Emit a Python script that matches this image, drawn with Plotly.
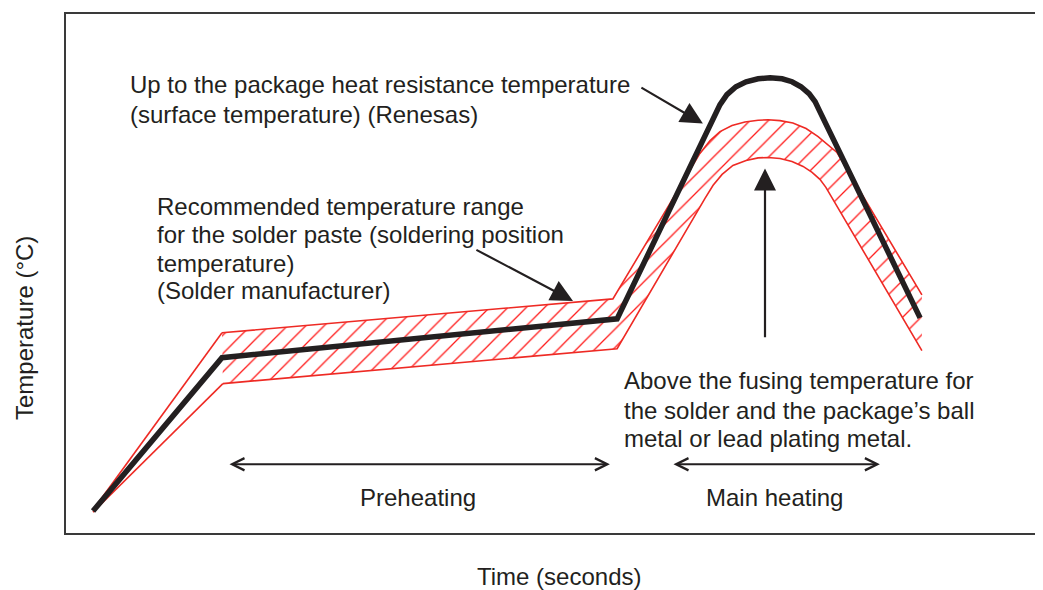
import plotly.graph_objects as go

# ---- data (time in s, temperature in °C; arbitrary schematic units) ----
profile_t = [9, 52, 183.7, 216.3, 218, 220.3, 223.3, 226.7, 230.7, 234.7, 238.7, 242, 245, 247.7, 249.7, 251.3, 284.7]
profile_T = [11, 88, 107.5, 210, 215, 220, 224, 226.5, 228, 228.5, 228, 226.5, 224, 220.5, 216.5, 211.5, 108]

ramp_upper_t = [9, 52]
ramp_upper_T = [11.5, 100.5]
ramp_lower_t = [9, 52.3]
ramp_lower_T = [10.5, 75]

band_upper_t = [52, 182.3, 211.3, 214.7, 218, 222, 226.3, 230.7, 234, 238, 242.3, 246.7, 250.7, 254, 257, 285.3]
band_upper_T = [100.5, 117.5, 190.5, 197, 201.5, 204.5, 206.3, 207.2, 207.4, 207, 205.8, 203, 199, 195, 191, 119.5]

band_lower_t = [52.3, 183.7, 213, 215.7, 218.7, 222.3, 226.7, 230.7, 234, 238, 242, 245.7, 248.7, 251.3, 253.3, 285.3]
band_lower_T = [75, 92.5, 168, 174.5, 180, 184.5, 187, 188.3, 188.5, 188, 186.5, 184, 181, 177.5, 173.5, 91.5]

renesas_lines = ["Up to the package heat resistance temperature", "(surface temperature) (Renesas)"]
solder_lines = ["Recommended temperature range", "for the solder paste (soldering position",
                "temperature)", "(Solder manufacturer)"]
fusing_lines = ["Above the fusing temperature for", "the solder and the package\u2019s ball",
                "metal or lead plating metal."]
phase_labels = ["Preheating", "Main heating"]
x_title = "Time (seconds)"
y_title = "Temperature (\u00b0C)"

TXT = "#231f20"
RED = "#ee2a24"
FONT = "Liberation Sans, Arial, sans-serif"
FS = 24

fig = go.Figure()

# hatched band
poly_t = band_upper_t + band_lower_t[::-1]
poly_T = band_upper_T + band_lower_T[::-1]
fig.add_trace(go.Scatter(
    x=poly_t, y=poly_T, mode="lines", fill="toself",
    line=dict(width=0, color="rgba(0,0,0,0)"),
    fillcolor="rgba(0,0,0,0)",
    fillpattern=dict(shape="/", fgcolor="#ff1a1a", fgopacity=1, bgcolor="white",
                     size=13, solidity=0.1),
    hoverinfo="skip", showlegend=False,
))
for xs, ys in [(band_upper_t, band_upper_T), (band_lower_t, band_lower_T),
               (ramp_upper_t, ramp_upper_T), (ramp_lower_t, ramp_lower_T)]:
    fig.add_trace(go.Scatter(x=xs, y=ys, mode="lines",
                             line=dict(color=RED, width=1.6),
                             hoverinfo="skip", showlegend=False))

# profile
fig.add_trace(go.Scatter(x=profile_t, y=profile_T, mode="lines",
                         line=dict(color="#231f20", width=5.5),
                         hoverinfo="skip", showlegend=False))

ann = []
def text(x, y, s, xanchor="left", align="left", **kw):
    d = dict(x=x, y=y, text=s, showarrow=False, xanchor=xanchor, yanchor="middle",
             align=align, font=dict(family=FONT, size=FS, color=TXT))
    d.update(kw)
    ann.append(d)

for s, y in zip(renesas_lines, [225, 210]):
    text(20.7, y, s)
for s, y in zip(solder_lines, [164, 150, 135.5, 121.5]):
    text(29.7, y, s)
for s, y in zip(fusing_lines, [76.5, 61.5, 47.5]):
    text(185.3, y, s)
text(117.3, 18, phase_labels[0], xanchor="center", align="center")
text(236.3, 18, phase_labels[1], xanchor="center", align="center")
text(0.509, -0.0845, x_title, xanchor="center", align="center", xref="paper", yref="paper")
text(-0.0423, 0.395, y_title, xanchor="center", align="center", xref="paper", yref="paper", textangle=-90)

def arrow(x, y, ax, ay, head=2, size=2.0, side="end"):
    ann.append(dict(x=x, y=y, ax=ax, ay=ay, xref="x", yref="y", axref="x", ayref="y",
                    text="", showarrow=True, arrowhead=head, startarrowhead=head,
                    arrowsize=size, startarrowsize=size, arrowwidth=2.2,
                    arrowcolor=TXT, arrowside=side))

arrow(212.3, 205.5, 191.3, 224)
arrow(169, 116.5, 136.3, 142.5)
arrow(233, 183, 233, 97.5)
arrow(181.3, 34.5, 54, 34.5, head=5, size=1.1, side="end+start")
arrow(271.3, 34.5, 202, 34.5, head=5, size=1.1, side="end+start")

# page has an 8px body margin: shrink figure so the plot frame lands where the reference has it
fig.update_layout(
    width=1035, height=582,
    margin=dict(l=58, r=8, t=4, b=57),
    paper_bgcolor="white", plot_bgcolor="white",
    annotations=ann,
    xaxis=dict(range=[0, 323], showgrid=False, zeroline=False, showticklabels=False,
               ticks="", showline=True, mirror=True, linecolor="#3a3a3a", linewidth=1.5),
    yaxis=dict(range=[0, 260.5], showgrid=False, zeroline=False, showticklabels=False,
               ticks="", showline=True, mirror=True, linecolor="#3a3a3a", linewidth=1.5),
)

fig.write_html("out.html")
